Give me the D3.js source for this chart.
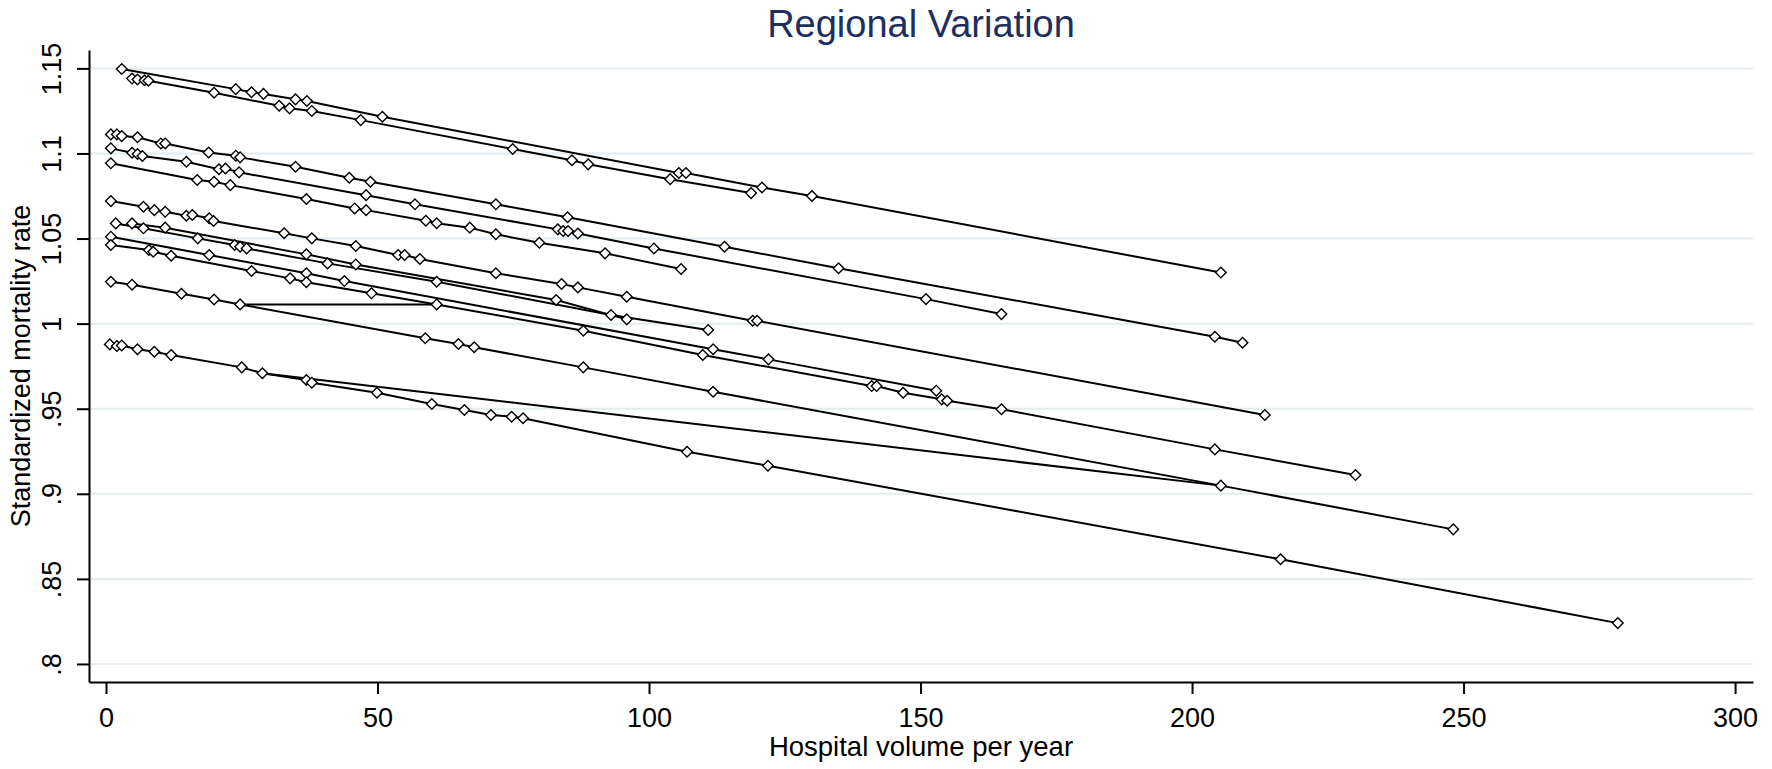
<!DOCTYPE html>
<html>
<head>
<meta charset="utf-8">
<script src="https://cdn.jsdelivr.net/npm/d3@7"></script>
<style>
	body { margin: 0; background: #fff; }
	svg { display: block; font-family: "Liberation Sans", Arial, sans-serif; }
</style>
</head>
<body>
<div id="chart"></div>
<script>
var xTicks = [0, 50, 100, 150, 200, 250, 300];
var yTicks = [0.8, 0.85, 0.9, 0.95, 1, 1.05, 1.1, 1.15];
var yTickLabels = [".8", ".85", ".9", ".95", "1", "1.05", "1.1", "1.15"];

// one array per region: [hospital volume, standardized mortality rate]
var regionA = [[2.9, 1.1496], [23.9, 1.1378], [26.8, 1.136], [29, 1.135], [34.9, 1.1318], [37, 1.1308], [50.9, 1.1216], [105.5, 1.0885], [106.8, 1.0885], [120.8, 1.080], [130, 1.075], [205.3, 1.030]];
var regionB = [[4.8, 1.144], [5.8, 1.1435], [7.1, 1.143], [7.8, 1.1427], [19.9, 1.1357], [31.9, 1.128], [33.8, 1.1265], [37.9, 1.125], [46.9, 1.1196], [74.9, 1.1026], [85.8, 1.096], [88.8, 1.0936], [103.9, 1.0849], [118.8, 1.0767]];
var regionC = [[0.9, 1.1112], [2.0, 1.1112], [2.9, 1.1102], [5.8, 1.1095], [10.1, 1.1059], [10.9, 1.1059], [18.9, 1.1006], [23.9, 1.0987], [24.7, 1.0977], [34.9, 1.0922], [44.8, 1.0857], [48.7, 1.0834], [71.8, 1.0701], [85, 1.0625], [113.9, 1.0452], [134.9, 1.0325], [204.2, 0.9923], [209.3, 0.9888]];
var regionD = [[0.9, 1.103], [4.8, 1.1004], [5.8, 1.0997], [6.7, 1.0985], [14.8, 1.0951], [20.8, 1.0907], [22, 1.0912], [24.5, 1.0889], [47.9, 1.0755], [56.9, 1.0701], [83.2, 1.0554], [84.2, 1.0544], [85.1, 1.0544], [86.9, 1.053], [100.9, 1.0442], [151, 1.0144], [164.9, 1.0056]];
var regionE = [[0.9, 1.0942], [16.8, 1.0844], [19.9, 1.0834], [22.9, 1.0814], [36.9, 1.0732], [45.8, 1.0677], [47.9, 1.0667], [58.9, 1.0605], [60.9, 1.059], [67.0, 1.0564], [71.8, 1.0525], [79.8, 1.0475], [91.9, 1.0413], [105.9, 1.0321]];
var regionF = [[0.9, 1.072], [6.9, 1.0687], [8.9, 1.0667], [10.9, 1.0657], [14.8, 1.0634], [15.9, 1.0638], [19.0, 1.0619], [19.8, 1.0603], [32.8, 1.0531], [37.9, 1.0501], [46.0, 1.0456], [53.8, 1.0403], [55.0, 1.0403], [57.8, 1.038], [71.8, 1.0296], [83.9, 1.0233], [86.9, 1.0213], [95.9, 1.0158], [119.1, 1.0017], [119.9, 1.0017], [213.4, 0.9463]];
var regionG1 = [[1.8, 1.0589], [6.9, 1.056], [16.9, 1.0501], [23.7, 1.0462], [24.7, 1.0452], [25.9, 1.0442], [40.8, 1.0354], [60.9, 1.0246], [93, 1.0051], [110.9, 0.9963]];
var regionG2 = [[4.8, 1.0589], [10.9, 1.0564], [36.9, 1.0407], [46.0, 1.0348], [82.9, 1.0139], [95.9, 1.0025]];
var regionH = [[0.9, 1.0511], [19.0, 1.0403], [36.9, 1.0296], [43.9, 1.025], [111.8, 0.9849], [122, 0.979], [152.9, 0.9606]];
var regionI = [[0.9, 1.0462], [7.9, 1.0433], [8.7, 1.0422], [12, 1.0399], [26.8, 1.0309], [33.9, 1.0266], [36.9, 1.0243], [48.9, 1.0178], [60.9, 1.0113], [87.9, 0.9958], [109.9, 0.9816], [141, 0.9633], [141.9, 0.9633], [146.8, 0.9594], [153.9, 0.9555], [154.9, 0.9547], [164.9, 0.9497], [204.2, 0.9261], [230.1, 0.911]];
var regionJ = [[0.9, 1.0246], [4.8, 1.0229], [13.9, 1.0176], [19.9, 1.0142], [24.7, 1.0113], [58.8, 0.9914], [64.9, 0.988], [67.8, 0.9861], [87.9, 0.9743], [111.8, 0.96], [205.3, 0.9048], [248.1, 0.8791]];
var regionK = [[0.7, 0.9878], [2.0, 0.9868], [2.9, 0.9872], [5.8, 0.9849], [8.9, 0.9835], [12.0, 0.9815], [25.0, 0.9743], [28.8, 0.9708], [36.9, 0.9669], [37.9, 0.9653], [49.9, 0.9594], [60.0, 0.9528], [66.0, 0.9492], [70.9, 0.9463], [74.7, 0.9453], [76.8, 0.9444], [107, 0.9247], [121.9, 0.9165], [216.3, 0.8615], [278.4, 0.824]];
// stray joins between regions as they appear in the original
var joinJI = [[24.7, 1.0113], [60.9, 1.0113]];
var joinKJ = [[28.8, 0.9708], [205.3, 0.9048]];

var series = [regionA, regionB, regionC, regionD, regionE, regionF, regionG1, regionG2, regionH, regionI, regionJ, regionK, joinJI, joinKJ];
var markerSeries = [regionA, regionB, regionC, regionD, regionE, regionF, regionG1, regionG2, regionH, regionI, regionJ, regionK];

var width = 1772,
	height = 769,
	plot = { left: 89, right: 1753, top: 50, bottom: 682 };

var svg = d3.select("#chart")
	.append("svg")
	.attr("width", width)
	.attr("height", height);

svg.append("rect").attr("width", width).attr("height", height).attr("fill", "#fff");

var x = d3.scaleLinear()
	.domain([-3.13, 303.3])
	.range([plot.left, plot.right]);

var y = d3.scaleLinear()
	.domain([0.7894, 1.1608])
	.range([plot.bottom, plot.top]);

// grid
svg.append("g")
	.selectAll("line")
	.data(yTicks)
	.enter().append("line")
	.attr("x1", plot.left)
	.attr("x2", plot.right)
	.attr("y1", function (d) { return y(d); })
	.attr("y2", function (d) { return y(d); })
	.attr("stroke", "#e4ecef")
	.attr("stroke-width", 2);

var line = d3.line()
	.x(function (d) { return x(d[0]); })
	.y(function (d) { return y(d[1]); });

svg.append("g")
	.selectAll("path")
	.data(series)
	.enter().append("path")
	.attr("fill", "none")
	.attr("stroke", "#000")
	.attr("stroke-width", 2)
	.attr("d", line);

var diamond = d3.symbol().type(d3.symbolSquare).size(56);
svg.append("g")
	.selectAll("path")
	.data(markerSeries.flat())
	.enter().append("path")
	.attr("d", diamond)
	.attr("transform", function (d) {
		return "translate(" + x(d[0]) + "," + y(d[1]) + ") rotate(45)";
	})
	.attr("fill", "#fff")
	.attr("stroke", "#000")
	.attr("stroke-width", 1.4);

// axes
var xAxis = svg.append("g")
	.attr("transform", "translate(0," + plot.bottom + ")")
	.call(d3.axisBottom(x).tickValues(xTicks).tickSize(12).tickSizeOuter(0).tickPadding(14));
xAxis.select(".domain").attr("stroke-width", 2);
xAxis.selectAll(".tick line").attr("stroke-width", 2);
xAxis.selectAll("text").attr("font-size", 27).attr("fill", "#000").attr("font-family", "Liberation Sans, Arial, sans-serif");

var yAxis = svg.append("g")
	.attr("transform", "translate(" + plot.left + ",0)")
	.call(d3.axisLeft(y).tickValues(yTicks).tickSize(12).tickSizeOuter(0)
		.tickFormat(function (d, i) { return yTickLabels[i]; }));
yAxis.select(".domain").attr("stroke-width", 2);
yAxis.selectAll(".tick line").attr("stroke-width", 2);
yAxis.selectAll("text")
	.attr("font-size", 27)
	.attr("fill", "#000")
	.attr("font-family", "Liberation Sans, Arial, sans-serif")
	.attr("text-anchor", "middle")
	.attr("transform", "rotate(-90)")
	.attr("x", 0)
	.attr("y", -28)
	.attr("dy", null);

svg.append("text")
	.attr("x", (plot.left + plot.right) / 2)
	.attr("y", 37)
	.attr("text-anchor", "middle")
	.attr("font-size", 38)
	.attr("fill", "#1e2f5e")
	.text("Regional Variation");

svg.append("text")
	.attr("x", (plot.left + plot.right) / 2)
	.attr("y", 756)
	.attr("text-anchor", "middle")
	.attr("font-size", 27.5)
	.attr("fill", "#000")
	.text("Hospital volume per year");

svg.append("text")
	.attr("transform", "translate(30," + (plot.top + plot.bottom) / 2 + ") rotate(-90)")
	.attr("text-anchor", "middle")
	.attr("font-size", 27)
	.attr("fill", "#000")
	.text("Standardized mortality rate");
</script>
</body>
</html>
